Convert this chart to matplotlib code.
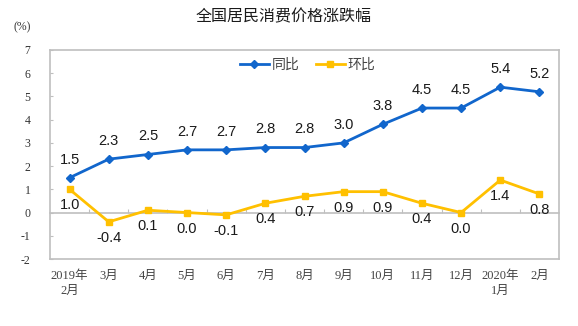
import matplotlib
matplotlib.use("Agg")
import matplotlib.pyplot as plt

categories = ["2019年\n2月", "3月", "4月", "5月", "6月", "7月", "8月", "9月",
              "10月", "11月", "12月", "2020年\n1月", "2月"]
yoy = [1.5, 2.3, 2.5, 2.7, 2.7, 2.8, 2.8, 3.0, 3.8, 4.5, 4.5, 5.4, 5.2]
mom = [1.0, -0.4, 0.1, 0.0, -0.1, 0.4, 0.7, 0.9, 0.9, 0.4, 0.0, 1.4, 0.8]
yticks = [-2, -1, 0, 1, 2, 3, 4, 5, 6, 7]
title = "全国居民消费价格涨跌幅"
series_names = ["同比", "环比"]

BLUE = "#1166CC"
YELLOW = "#FFC000"
GRAY = "#BFBFBF"

fig = plt.figure(figsize=(5.78, 3.26), dpi=100)
ax = fig.add_axes([50/578, 1-259/326, 509/578, 209/326])

x = list(range(len(categories)))
ax.plot(x, yoy, color=BLUE, lw=2, marker="D", ms=4.5, label=series_names[0])
ax.plot(x, mom, color=YELLOW, lw=2, marker="s", ms=4.5, label=series_names[1])

lab_font = dict(family=["Liberation Sans", "DejaVu Sans"], size=10.5, color="#1a1a1a")
for xi, v in zip(x, yoy):
    ax.annotate(f"{v:.1f}", (xi, v), xytext=(0, 13), textcoords="offset points",
                ha="center", va="center", **lab_font)
for xi, v in zip(x, mom):
    ax.annotate(f"{v:.1f}", (xi, v), xytext=(0, -11.5), textcoords="offset points",
                ha="center", va="center", **lab_font)

ax.set_xlim(-0.5, len(categories) - 0.5)
ax.set_ylim(yticks[0], yticks[-1])
ax.set_yticks(yticks)
ax.set_yticklabels([str(t) for t in yticks], family=["Liberation Serif"], size=8.5,
                   color="#333333")
ax.set_xticks(x)
ax.set_xticklabels(categories, family=["Liberation Serif", "Noto Sans CJK SC"],
                   size=9, color="#444444", linespacing=1.3)
ax.tick_params(axis="x", length=0, pad=8)
ax.tick_params(axis="y", direction="in", length=2, color=GRAY, pad=14)
for lbl in ax.get_yticklabels():
    lbl.set_horizontalalignment("right")
for s in ax.spines.values():
    s.set_color(GRAY)
    s.set_linewidth(1.2)

# zero axis with boundary ticks
zero_pos = (0 - yticks[0]) / (yticks[-1] - yticks[0])
sec = ax.secondary_xaxis(zero_pos)
sec.set_xticks([i + 0.5 for i in x[:-1]])
sec.tick_params(direction="in", length=3, color=GRAY, labelbottom=False, labeltop=False)
sec.spines["bottom"].set_color(GRAY)
sec.spines["bottom"].set_linewidth(1.2)

leg = ax.legend(loc="center", bbox_to_anchor=(0.506, 0.928), ncol=2, frameon=False,
                prop=dict(family=["Noto Sans CJK SC"], size=10), handlelength=2.1,
                columnspacing=1.2, handletextpad=0.2)
for t in leg.get_texts():
    t.set_color("#444444")

fig.text(284/578, 1-17/326, title, ha="center", va="center",
         family=["Noto Sans CJK SC"], size=11.5, color="#1a1a1a")
fig.text(22/578, 1-27/326, "(%)", ha="center", va="center",
         family=["Liberation Serif"], size=8.5, color="#333333")

fig.savefig("out.png", dpi=100)
